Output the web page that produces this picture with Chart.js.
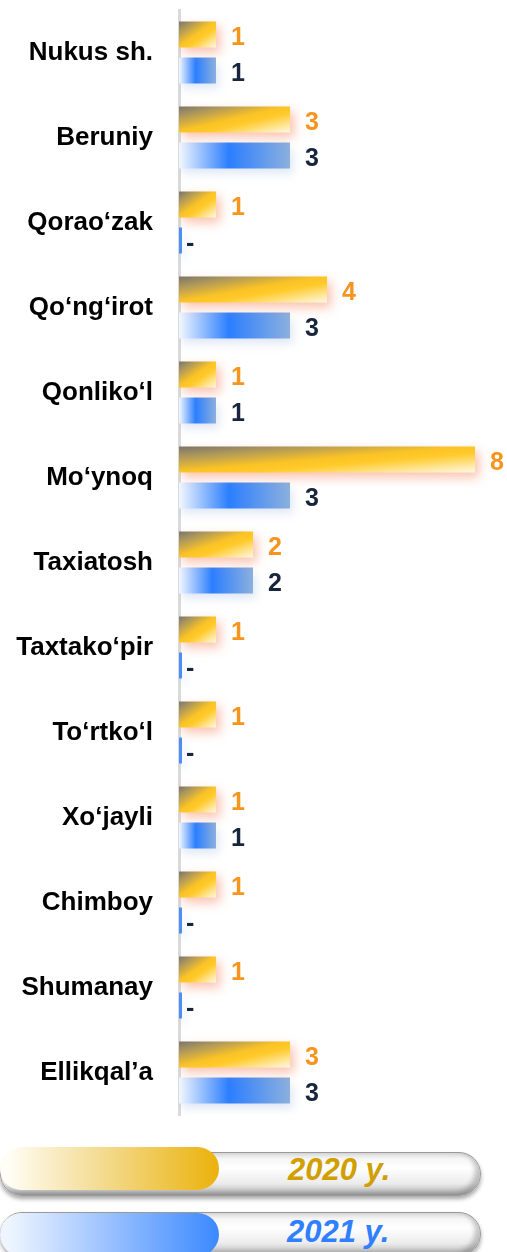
<!DOCTYPE html>
<html>
<head>
<meta charset="utf-8">
<script src="https://cdn.jsdelivr.net/npm/chart.js@4.4.1/dist/chart.umd.min.js"></script>
<style>
  html, body { margin: 0; padding: 0; background: #fff; }
  body { width: 507px; height: 1252px; position: relative; overflow: hidden; font-family: "Liberation Sans", Arial, sans-serif; }
  #chart { position: absolute; left: 0; top: 0; }
  .pill { position: absolute; left: 0; width: 481px; height: 44px; border-radius: 22px; box-sizing: border-box;
    border: 1px solid #9a9a9a;
    background: linear-gradient(#d8d8d8 0%, #f6f6f6 14%, #ffffff 35%, #ececec 72%, #b4b4b4 100%);
    box-shadow: 0 3px 4px rgba(0,0,0,0.35), inset -5px -3px 5px rgba(0,0,0,0.22); }
  .fill { position: absolute; left: 0; width: 219px; height: 43px; border-radius: 22px; }
  .gold { background: linear-gradient(to right, #fffdf4 4%, #f4dc94 45%, #ebb20c 100%); }
  .blue { background: linear-gradient(to right, #eef5ff 4%, #a3c6ff 45%, #3b89ff 100%); }
  .lbl { position: absolute; font-size: 31px; line-height: 31px; font-weight: bold; font-style: italic; white-space: nowrap; }
</style>
</head>
<body>
<canvas id="chart" width="507" height="1125"></canvas>

<div class="pill" style="top:1152px"></div>
<div class="fill gold" style="top:1147px"></div>
<div class="lbl" style="left:288px; top:1154px; color:#d19f00">2020 y.</div>

<div class="pill" style="top:1212px"></div>
<div class="fill blue" style="top:1213px"></div>
<div class="lbl" style="left:287px; top:1216px; color:#2f7fff">2021 y.</div>

<script>
const districts = [
  "Nukus sh.", "Beruniy", "Qorao‘zak", "Qo‘ng‘irot", "Qonliko‘l", "Mo‘ynoq", "Taxiatosh",
  "Taxtako‘pir", "To‘rtko‘l", "Xo‘jayli", "Chimboy", "Shumanay", "Ellikqal’a"
];
const values2020 = [1, 3, 1, 4, 1, 8, 2, 1, 1, 1, 1, 1, 3];
const values2021 = [1, 3, 0, 3, 1, 3, 2, 0, 0, 1, 0, 0, 3];
const seriesNames = ["2020 y.", "2021 y."];
const labelColors = ["#f7941d", "#17253d"];

// gradients + shadows on the bars
const barStyle = {
  id: "barStyle",
  beforeDatasetsDraw(chart) {
    const ctx = chart.ctx;
    chart.data.datasets.forEach((ds, di) => {
      chart.getDatasetMeta(di).data.forEach((bar) => {
        const left = Math.min(bar.base, bar.x);
        const right = Math.max(bar.base, bar.x);
        const top = bar.y - bar.height / 2;
        const bottom = bar.y + bar.height / 2;
        const w = right - left, h = bottom - top;
        let fill;
        if (di === 0) {
          // diagonal in the bar's own box: top-left grey -> gold -> cream bottom-right
          const nx = 1 / (2 * w), ny = 1 / (2 * h);
          const n2 = nx * nx + ny * ny;
          fill = ctx.createLinearGradient(left, top, left + nx / n2, top + ny / n2);
          fill.addColorStop(0, "#7a756d");
          fill.addColorStop(0.22, "#b39b58");
          fill.addColorStop(0.48, "#fbc325");
          fill.addColorStop(0.62, "#ffca2a");
          fill.addColorStop(1, "#fff9e6");
        } else if (w < 6) {
          fill = "#4a8ef8";
        } else {
          fill = ctx.createLinearGradient(left, 0, right, 0);
          fill.addColorStop(0, "#f2f7ff");
          fill.addColorStop(0.45, "#2b7eff");
          fill.addColorStop(1, "#8cb0de");
        }
        bar.options = Object.assign({}, bar.options, { backgroundColor: fill });
      });
    });
  },
  beforeDatasetDraw(chart, args) {
    const ctx = chart.ctx;
    ctx.save();
    if (args.index === 0) {
      ctx.shadowColor = "rgba(245,130,90,0.5)";
      ctx.shadowBlur = 11;
      ctx.shadowOffsetX = 4;
      ctx.shadowOffsetY = 5;
    } else {
      ctx.shadowColor = "rgba(150,175,220,0.3)";
      ctx.shadowBlur = 9;
      ctx.shadowOffsetX = 3;
      ctx.shadowOffsetY = 6;
    }
  },
  afterDatasetDraw(chart) {
    chart.ctx.restore();
  }
};

// value labels at the end of each bar
const valueLabels = {
  id: "valueLabels",
  afterDatasetsDraw(chart) {
    const ctx = chart.ctx;
    ctx.save();
    ctx.font = "bold 25px 'Liberation Sans', Arial, sans-serif";
    ctx.textAlign = "left";
    ctx.textBaseline = "middle";
    chart.data.datasets.forEach((ds, di) => {
      ctx.fillStyle = labelColors[di];
      chart.getDatasetMeta(di).data.forEach((bar, i) => {
        const v = ds.data[i];
        const txt = v === 0 ? "-" : String(v);
        ctx.fillText(txt, bar.x + (v === 0 ? 4 : 15), bar.y + 4);
      });
    });
    ctx.restore();
  }
};

new Chart(document.getElementById("chart"), {
  type: "bar",
  data: {
    labels: districts,
    datasets: [
      { label: seriesNames[0], data: values2020, backgroundColor: "#ffc325",
        categoryPercentage: 0.847, barPercentage: 0.722 },
      { label: seriesNames[1], data: values2021, backgroundColor: "#2b7eff", minBarLength: 3,
        categoryPercentage: 0.847, barPercentage: 0.722 }
    ]
  },
  options: {
    indexAxis: "y",
    responsive: false,
    animation: false,
    events: [],
    layout: { padding: { top: 10, bottom: 10, left: 0, right: 13.5 } },
    plugins: { legend: { display: false }, tooltip: { enabled: false } },
    scales: {
      x: { display: false, min: 0, max: 8.5 },
      y: {
        afterFit(scale) {
          scale.width = 179;
          scale.paddingTop = 0;
          scale.paddingBottom = 0;
        },
        grid: { display: false, drawTicks: false },
        border: { display: true, color: "#dadada", width: 3 },
        ticks: {
          padding: 26,
          color: "#000",
          font: { family: "'Liberation Sans', Arial, sans-serif", size: 26, weight: "bold" }
        }
      }
    }
  },
  plugins: [barStyle, valueLabels]
});
</script>
</body>
</html>
